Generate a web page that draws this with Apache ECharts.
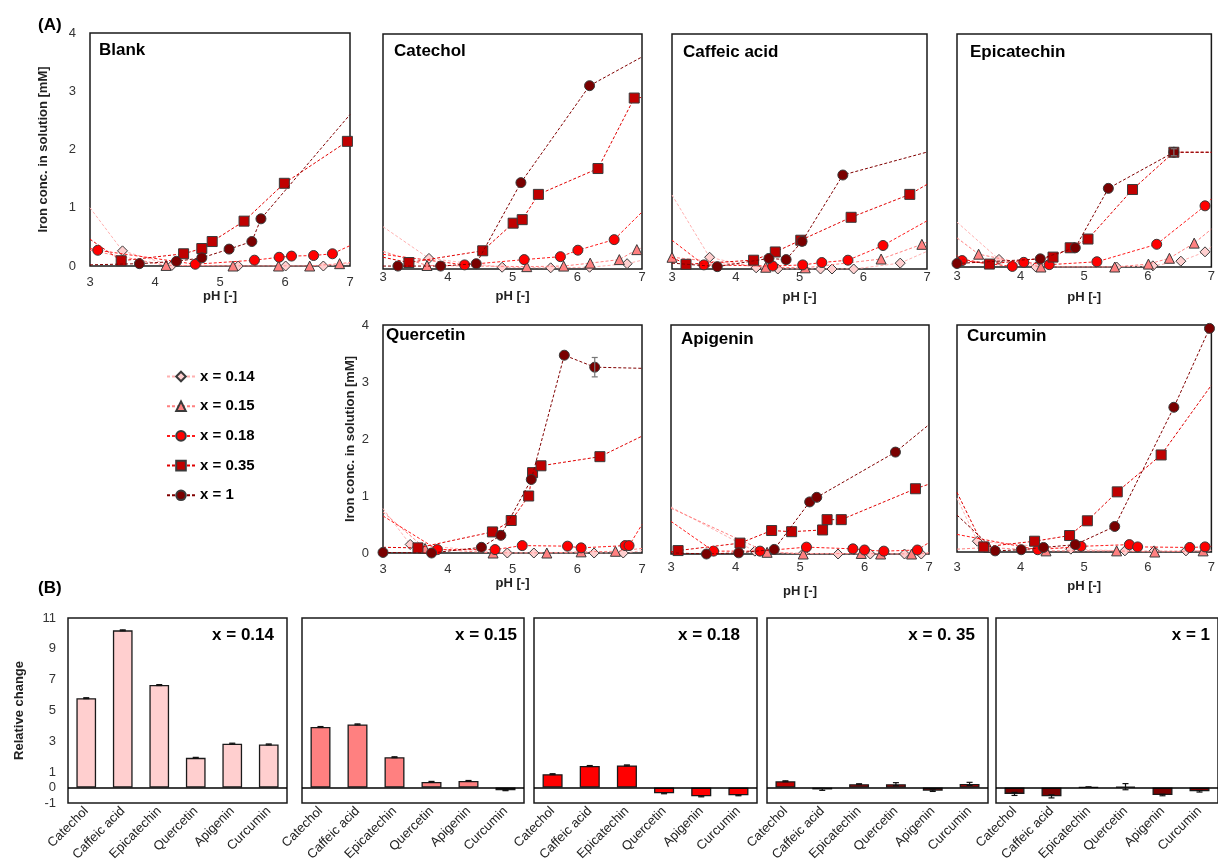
<!DOCTYPE html>
<html><head><meta charset="utf-8">
<script src="https://cdn.jsdelivr.net/npm/echarts@6/dist/echarts.min.js"></script>
<style>html,body{margin:0;padding:0;background:#fff}#c{width:1218px;height:865px}</style>
</head><body><div id="c"></div>
<script>
// ================= DATA =================
const seriesNames = ['x = 0.14', 'x = 0.15', 'x = 0.18', 'x = 0.35', 'x = 1'];
const xTicks = [3, 4, 5, 6, 7];
const yTicksA = [0, 1, 2, 3, 4];
const yTicksB = [11, 9, 7, 5, 3, 1, 0, -1];
const categories = ['Catechol', 'Caffeic acid', 'Epicatechin', 'Quercetin', 'Apigenin', 'Curcumin'];

// Panel A: [pH, iron conc. mM]; edge arrays = line value where it leaves the plot at pH 3 / pH 7 (null = none)
const blank14 = [[3.50,0.26],[4.26,0.01],[5.28,0.0],[6.01,0.0],[6.59,0.0]];
const blank15 = [[4.17,0.01],[5.20,0.0],[5.90,0.0],[6.38,0.0],[6.84,0.04]];
const blank18 = [[3.12,0.27],[4.62,0.03],[5.53,0.10],[5.91,0.15],[6.10,0.17],[6.44,0.18],[6.73,0.21]];
const blank35 = [[3.48,0.09],[4.44,0.21],[4.72,0.30],[4.88,0.42],[5.37,0.77],[5.99,1.42],[6.96,2.14]];
const blank1  = [[3.76,0.04],[4.33,0.08],[4.72,0.14],[5.14,0.29],[5.49,0.42],[5.63,0.81]];
const blankEdgeL = [1.0, 0.27, 0.30, 0.46, 0.02];
const blankEdgeR = [0.04, 0.06, 0.35, null, 2.6];

const catechol14 = [[3.71,0.18],[4.84,0.03],[5.59,0.02],[6.19,0.03],[6.77,0.09]];
const catechol15 = [[3.68,0.06],[5.22,0.04],[5.79,0.05],[6.20,0.10],[6.65,0.16],[6.92,0.33]];
const catechol18 = [[4.26,0.07],[5.18,0.16],[5.74,0.21],[6.01,0.32],[6.57,0.50]];
const catechol35 = [[3.40,0.11],[4.54,0.31],[5.01,0.78],[5.15,0.84],[5.40,1.27],[6.32,1.71],[6.88,2.91]];
const catechol1  = [[3.23,0.05],[3.89,0.05],[4.44,0.09],[5.13,1.47],[6.19,3.12]];
const catecholEdgeL = [0.72, 0.30, 0.25, 0.20, 0.05];
const catecholEdgeR = [0.15, 0.36, 0.97, 2.92, 3.61];

const caffeic14 = [[3.59,0.20],[4.32,0.02],[4.66,0.0],[5.33,0.0],[5.51,0.0],[5.85,0.0],[6.58,0.10]];
const caffeic15 = [[3.0,0.20],[4.47,0.03],[5.09,0.02],[6.28,0.17],[6.92,0.42]];
const caffeic18 = [[3.50,0.07],[4.58,0.05],[5.05,0.07],[5.35,0.11],[5.76,0.15],[6.31,0.40]];
const caffeic35 = [[3.22,0.08],[4.28,0.15],[4.62,0.29],[5.02,0.49],[5.81,0.88],[6.73,1.27]];
const caffeic1  = [[3.71,0.04],[4.52,0.18],[4.79,0.16],[5.04,0.47],[5.68,1.60]];
const caffeicEdgeL = [1.26, null, 0.49, 0.20, 0.10];
const caffeicEdgeR = [0.30, 0.46, 0.82, 1.44, 1.99];

const epicatechin14 = [[3.66,0.13],[4.24,0.0],[5.51,0.0],[6.08,0.02],[6.52,0.10],[6.90,0.26]];
const epicatechin15 = [[3.34,0.22],[4.32,0.0],[5.48,0.0],[6.01,0.05],[6.34,0.15],[6.73,0.41]];
const epicatechin18 = [[3.08,0.11],[3.87,0.01],[4.05,0.08],[4.45,0.04],[5.20,0.09],[6.14,0.39],[6.90,1.05]];
const epicatechin35 = [[3.51,0.05],[4.51,0.17],[4.78,0.33],[5.06,0.48],[5.76,1.33],[6.41,1.97]];
const epicatechin1  = [[3.0,0.06],[4.31,0.14],[4.86,0.33],[5.38,1.35],[6.41,1.97]];
const epicatechinEdgeL = [0.77, 0.50, 0.20, 0.15, null];
const epicatechinEdgeR = [0.35, 0.65, 1.17, 1.97, 1.97];
const epicatechinErr = [[6.41, 1.97, 0.06]];

const quercetin14 = [[3.42,0.15],[4.92,0.0],[5.33,0.0],[6.26,0.0],[6.71,0.0]];
const quercetin15 = [[3.65,0.08],[4.70,0.0],[5.53,0.0],[6.06,0.02],[6.59,0.03]];
const quercetin18 = [[3.84,0.06],[4.73,0.06],[5.15,0.13],[5.85,0.12],[6.06,0.09],[6.74,0.13],[6.80,0.13]];
const quercetin35 = [[3.54,0.09],[4.69,0.37],[4.98,0.57],[5.25,1.00],[5.31,1.41],[5.44,1.53],[6.35,1.69]];
const quercetin1  = [[3.0,0.01],[3.75,0.0],[4.52,0.10],[4.82,0.31],[5.29,1.29],[5.80,3.47],[6.27,3.26]];
const quercetinEdgeL = [0.78, 0.72, 0.65, 0.10, null];
const quercetinEdgeR = [0.04, 0.08, 0.50, 2.05, 3.24];
const quercetinErr = [[6.27, 3.26, 0.17]];

const apigenin14 = [[4.30,0.05],[5.05,0.01],[5.59,0.0],[6.09,0.0],[6.62,0.0],[6.88,0.0]];
const apigenin15 = [[4.49,0.03],[5.05,0.0],[5.95,0.01],[6.25,0.0],[6.73,0.0]];
const apigenin18 = [[3.66,0.05],[4.38,0.05],[5.10,0.12],[5.82,0.09],[6.00,0.07],[6.30,0.05],[6.82,0.07]];
const apigenin35 = [[3.11,0.06],[4.07,0.19],[4.56,0.41],[4.87,0.39],[5.35,0.42],[5.42,0.60],[5.64,0.60],[6.79,1.14]];
const apigenin1  = [[3.55,0.0],[4.05,0.02],[4.60,0.08],[5.15,0.91],[5.26,0.99],[6.48,1.78]];
const apigeninEdgeL = [0.82, 0.80, 0.57, 0.04, 0.02];
const apigeninEdgeR = [0.0, 0.02, 0.20, 1.22, 2.26];

const curcumin14 = [[3.32,0.19],[4.79,0.05],[5.64,0.02],[6.10,0.02],[6.60,0.02]];
const curcumin15 = [[3.50,0.08],[4.40,0.02],[5.51,0.02],[6.11,0.0],[6.87,0.02]];
const curcumin18 = [[4.27,0.04],[4.95,0.10],[5.71,0.13],[5.84,0.09],[6.66,0.08],[6.90,0.09]];
const curcumin35 = [[3.42,0.09],[4.22,0.19],[4.77,0.29],[5.05,0.55],[5.52,1.06],[6.21,1.71]];
const curcumin1  = [[3.60,0.02],[4.01,0.04],[4.36,0.08],[4.86,0.13],[5.48,0.45],[6.41,2.55],[6.97,3.94]];
const curcuminEdgeL = [0.95, 0.05, 0.31, 1.05, 0.65];
const curcuminEdgeR = [0.03, 0.02, 0.10, 2.94, null];

// Panel B: relative change per polyphenol
const rel014 = [5.8, 10.2, 6.65, 1.93, 2.85, 2.8];
const rel015 = [3.93, 4.1, 1.97, 0.37, 0.43, -0.17];
const rel018 = [0.87, 1.4, 1.44, -0.37, -0.57, -0.5];
const rel035 = [0.41, -0.12, 0.22, 0.22, -0.2, 0.24];
const rel1   = [-0.41, -0.57, 0.03, 0.06, -0.48, -0.24];
const err014 = [0.03, 0.03, 0.03, 0.03, 0.03, 0.03];
const err015 = [0.03, 0.03, 0.03, 0.03, 0.03, 0.03];
const err018 = [0.03, 0.03, 0.03, 0.03, 0.03, 0.03];
const err035 = [0.03, 0.06, 0.03, 0.1, 0.05, 0.1];
const err1   = [0.1, 0.1, 0.02, 0.2, 0.05, 0.05];

// ================= STYLE / LAYOUT =================
const FONT = '"Liberation Sans", Arial, sans-serif';
const symbols = ['diamond', 'triangle', 'circle', 'rect', 'circle'];
const fills = ['#FFCFCF', '#FF8080', '#FF0000', '#C00000', '#7A0000'];
const lineCols = ['#FFB0B0', '#FF8080', '#FF1A1A', '#E00000', '#800000'];
const symSizes = [10, 10, 10, 10, 10];

const panelsA = [
  {name:'Blank', pts:[blank14,blank15,blank18,blank35,blank1], L:blankEdgeL, R:blankEdgeR,
   grid:{left:90,top:33,width:260,height:233}, tl:[99,42], yLab:true, yGap:40, lm:10, ng:24, err:null},
  {name:'Catechol', pts:[catechol14,catechol15,catechol18,catechol35,catechol1], L:catecholEdgeL, R:catecholEdgeR,
   grid:{left:383,top:34,width:259,height:235}, tl:[394,43], yLab:false, lm:2, ng:21, err:null},
  {name:'Caffeic acid', pts:[caffeic14,caffeic15,caffeic18,caffeic35,caffeic1], L:caffeicEdgeL, R:caffeicEdgeR,
   grid:{left:672,top:34,width:255,height:235}, tl:[683,44], yLab:false, lm:2, ng:22, err:null},
  {name:'Epicatechin', pts:[epicatechin14,epicatechin15,epicatechin18,epicatechin35,epicatechin1], L:epicatechinEdgeL, R:epicatechinEdgeR,
   grid:{left:957,top:34,width:260,height:233}, tl:[970,44], yLab:false, lm:3, ng:24, err:epicatechinErr},
  {name:'Quercetin', pts:[quercetin14,quercetin15,quercetin18,quercetin35,quercetin1], L:quercetinEdgeL, R:quercetinEdgeR,
   grid:{left:383,top:325,width:259,height:228}, tl:[386,327], yLab:true, yGap:26, lm:10, ng:23, err:quercetinErr},
  {name:'Apigenin', pts:[apigenin14,apigenin15,apigenin18,apigenin35,apigenin1], L:apigeninEdgeL, R:apigeninEdgeR,
   grid:{left:671,top:325,width:258,height:229}, tl:[681,331], yLab:false, lm:7, ng:31, err:null},
  {name:'Curcumin', pts:[curcumin14,curcumin15,curcumin18,curcumin35,curcumin1], L:curcuminEdgeL, R:curcuminEdgeR,
   grid:{left:957,top:325,width:260,height:227}, tl:[967,328], yLab:false, lm:9, ng:28, err:null}
];

const panelsB = [
  {vals:rel014, err:err014, label:'x = 0.14', left:68,  width:219, right:944},
  {vals:rel015, err:err015, label:'x = 0.15', left:302, width:222, right:701},
  {vals:rel018, err:err018, label:'x = 0.18', left:534, width:223, right:478},
  {vals:rel035, err:err035, label:'x = 0. 35', left:767, width:221, right:243},
  {vals:rel1,   err:err1,   label:'x = 1',    left:996, width:222, right:8}
];

// ================= BUILD =================
const grids = [], xAxes = [], yAxes = [], series = [], titles = [];

titles.push({text:'(A)', left:38, top:17, padding:0, textStyle:{fontFamily:FONT, fontSize:17, fontWeight:'bold', color:'#000'}});
titles.push({text:'(B)', left:38, top:580, padding:0, textStyle:{fontFamily:FONT, fontSize:17, fontWeight:'bold', color:'#000'}});

function errRender(color, cap) {
  return function (params, api) {
    const x = api.value(0), y = api.value(1), e = api.value(2);
    const t = api.coord([x, y + e]), b = api.coord([x, y - e]);
    const st = {stroke: color, lineWidth: 1.2};
    return {type:'group', children:[
      {type:'line', shape:{x1:t[0], y1:t[1], x2:b[0], y2:b[1]}, style:st},
      {type:'line', shape:{x1:t[0]-cap, y1:t[1], x2:t[0]+cap, y2:t[1]}, style:st},
      {type:'line', shape:{x1:b[0]-cap, y1:b[1], x2:b[0]+cap, y2:b[1]}, style:st}
    ]};
  };
}

function buildLine(pts, l, r) {
  const d = [];
  if (l !== null && l !== undefined) d.push({value:[xTicks[0], l], symbol:'none'});
  pts.forEach(p => d.push(p));
  if (r !== null && r !== undefined) d.push({value:[xTicks[xTicks.length-1], r], symbol:'none'});
  return d;
}

panelsA.forEach((p, gi) => {
  grids.push(Object.assign({show:true, borderColor:'#1a1a1a', borderWidth:1.5, backgroundColor:'transparent'}, p.grid));
  xAxes.push({
    gridIndex:gi, type:'value', min:3, max:7, interval:1,
    axisLine:{show:false}, axisTick:{show:false}, splitLine:{show:false},
    axisLabel:{fontFamily:FONT, fontSize:13, color:'#333', margin:p.lm},
    name:'pH [-]', nameLocation:'middle', nameGap:p.ng,
    nameTextStyle:{fontFamily:FONT, fontSize:13, fontWeight:'bold', color:'#222'}
  });
  const ya = {
    gridIndex:gi, type:'value', min:0, max:4, interval:1,
    axisLine:{show:false}, axisTick:{show:false}, splitLine:{show:false},
    axisLabel:{show:p.yLab, fontFamily:FONT, fontSize:13, color:'#333', margin:14}
  };
  if (p.yLab) {
    ya.name = 'Iron conc. in solution [mM]';
    ya.nameLocation = 'middle';
    ya.nameGap = p.yGap;
    ya.nameTextStyle = {fontFamily:FONT, fontSize:13, fontWeight:'bold', color:'#222'};
  }
  yAxes.push(ya);
  titles.push({text:p.name, left:p.tl[0], top:p.tl[1], padding:0,
    textStyle:{fontFamily:FONT, fontSize:17, fontWeight:'bold', color:'#000'}});
  p.pts.forEach((pts, si) => {
    series.push({
      type:'line', name:seriesNames[si], xAxisIndex:gi, yAxisIndex:gi,
      data:buildLine(pts, p.L[si], p.R[si]),
      symbol:symbols[si], symbolSize:symSizes[si], showAllSymbol:true,
      lineStyle:{color:lineCols[si], width:1, type:[3,2]},
      itemStyle:{color:fills[si], borderColor:'#3a3a3a', borderWidth:1},
      z:2 + si, clip:true
    });
  });
  if (p.err) {
    series.push({type:'custom', xAxisIndex:gi, yAxisIndex:gi, data:p.err,
      renderItem:errRender('#777', 3), z:10, silent:true});
  }
});

panelsB.forEach((p, bi) => {
  const gi = panelsA.length + bi;
  grids.push({show:true, borderColor:'#1a1a1a', borderWidth:1.5, backgroundColor:'transparent',
    left:p.left, top:618, width:p.width, height:185});
  xAxes.push({
    gridIndex:gi, type:'category', data:categories,
    axisLine:{show:false}, axisTick:{show:false}, splitLine:{show:false},
    axisLabel:{interval:0, rotate:45, fontFamily:FONT, fontSize:13, color:'#222', margin:6}
  });
  const ya = {
    gridIndex:gi, type:'value', min:-1, max:11, interval:1,
    axisLine:{show:false}, axisTick:{show:false}, splitLine:{show:false},
    axisLabel:{show:bi === 0, fontFamily:FONT, fontSize:13, color:'#333', margin:12,
      formatter: v => (yTicksB.indexOf(v) >= 0 ? String(v) : '')}
  };
  if (bi === 0) {
    ya.name = 'Relative change';
    ya.nameLocation = 'middle';
    ya.nameGap = 42;
    ya.nameTextStyle = {fontFamily:FONT, fontSize:13, fontWeight:'bold', color:'#222'};
  }
  yAxes.push(ya);
  titles.push({text:p.label, right:p.right, top:627, padding:0,
    textStyle:{fontFamily:FONT, fontSize:17, fontWeight:'bold', color:'#000'}});
  series.push({
    type:'bar', name:'bars ' + p.label, xAxisIndex:gi, yAxisIndex:gi, data:p.vals, barWidth:'54%',
    itemStyle:{color:fills[bi], borderColor:'#1a1a1a', borderWidth:1.3},
    markLine:{silent:true, symbol:['none','none'], label:{show:false},
      lineStyle:{color:'#000', width:1.5, type:'solid'}, data:[{yAxis:0}]}
  });
  series.push({type:'custom', xAxisIndex:gi, yAxisIndex:gi,
    data:p.vals.map((v, i) => [i, v, p.err[i]]),
    renderItem:errRender('#111', 3), z:10, silent:true});
});

const chart = echarts.init(document.getElementById('c'), null, {renderer:'canvas'});
chart.setOption({
  animation:false,
  backgroundColor:'#fff',
  title:titles,
  legend:{
    data:seriesNames, orient:'vertical', left:161, top:364,
    itemWidth:28, itemHeight:12, itemGap:14.7,
    textStyle:{fontFamily:FONT, fontSize:15, fontWeight:'bold', color:'#000'}
  },
  grid:grids, xAxis:xAxes, yAxis:yAxes, series:series
});
</script>
</body></html>
